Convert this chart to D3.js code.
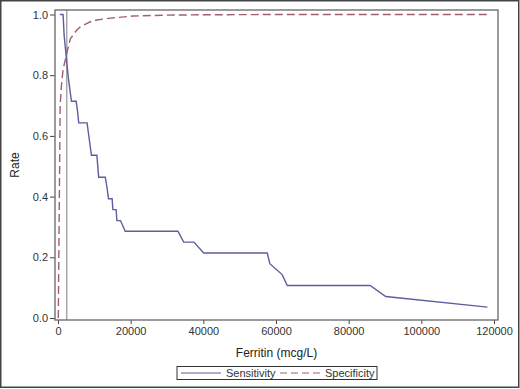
<!DOCTYPE html>
<html>
<head>
<meta charset="utf-8">
<script src="https://cdn.jsdelivr.net/npm/d3@7"></script>
<style>
  body { margin: 0; background: #fff; }
  text { font-family: "Liberation Sans", Arial, sans-serif; }
</style>
</head>
<body>
<div id="main"></div>
<script>
// ferritin (mcg/L) vs sensitivity
var sensFerritin = [500, 1400, 1700, 2000, 2300, 2600, 2900, 3300, 3700, 5000, 5400, 5700, 8000, 9200, 10700, 11200, 13000, 13500, 13900, 14900, 15100, 16000, 16200, 17200, 18500, 33000, 34600, 37400, 40100, 57600, 58300, 61700, 63100, 85900, 90200, 118200];
var sensValues   = [1.0, 1.0, 0.929, 0.893, 0.857, 0.821, 0.786, 0.75, 0.714, 0.714, 0.679, 0.643, 0.643, 0.536, 0.536, 0.464, 0.464, 0.429, 0.393, 0.393, 0.357, 0.357, 0.321, 0.321, 0.286, 0.286, 0.25, 0.25, 0.214, 0.214, 0.179, 0.143, 0.107, 0.107, 0.071, 0.036];

var specFerritin = [80, 600, 900, 1400, 2000, 2500, 3400, 5200, 6200, 8000, 8900, 10700, 14400, 20700, 30100, 39200, 60000, 118200];
var specValues   = [0.0, 0.70, 0.76, 0.82, 0.85, 0.877, 0.92, 0.949, 0.96, 0.971, 0.976, 0.982, 0.988, 0.995, 0.998, 0.999, 1.0, 1.0];

var cutoff = 2400;
var xTicks = [0, 20000, 40000, 60000, 80000, 100000, 120000];
var yTicks = [0.0, 0.2, 0.4, 0.6, 0.8, 1.0];
var legendNames = ["Sensitivity", "Specificity"];

var ctx = {
    w: 520,
    h: 389,
    left: 55, right: 498, top: 10, bottom: 320,
    sensColor: "#5b5f9c",
    specColor: "#a0606a"
};

var createViz = function() {
    var svg = d3.select("#main").append("svg")
        .attr("width", ctx.w)
        .attr("height", ctx.h);

    // outer border of the picture
    svg.append("rect")
        .attr("x", 0.75).attr("y", 0.75)
        .attr("width", ctx.w - 2).attr("height", ctx.h - 2.5)
        .attr("fill", "none")
        .attr("stroke", "#444")
        .attr("stroke-width", 1.5);

    var x = d3.scaleLinear().domain([0, 120000]).range([58, 494]);
    var y = d3.scaleLinear().domain([0, 1]).range([318, 14.5]);

    // axes
    var xAxis = svg.append("g")
        .attr("transform", "translate(0," + ctx.bottom + ")")
        .call(d3.axisBottom(x).tickValues(xTicks).tickSize(4).tickPadding(3).tickFormat(d3.format("d")));
    var yAxis = svg.append("g")
        .attr("transform", "translate(" + ctx.left + ",0)")
        .call(d3.axisLeft(y).tickValues(yTicks).tickSize(5).tickPadding(2).tickFormat(d3.format(".1f")));
    [xAxis, yAxis].forEach(function(a) {
        a.select(".domain").remove();
        a.selectAll("line").attr("stroke", "#444");
        a.selectAll("text")
            .attr("fill", "#333")
            .style("font-size", "11px");
    });

    // cutoff reference line
    svg.append("line")
        .attr("x1", x(cutoff)).attr("x2", x(cutoff))
        .attr("y1", ctx.top).attr("y2", ctx.bottom)
        .attr("stroke", "#a8a8a8")
        .attr("stroke-width", 1.5);

    var sensData = sensFerritin.map(function(f, i) { return [f, sensValues[i]]; });
    var specData = specFerritin.map(function(f, i) { return [f, specValues[i]]; });
    var line = d3.line()
        .x(function(d) { return x(d[0]); })
        .y(function(d) { return y(d[1]); });

    svg.append("path")
        .attr("d", line(specData))
        .attr("fill", "none")
        .attr("stroke", ctx.specColor)
        .attr("stroke-width", 1.4)
        .attr("stroke-dasharray", "8,4");

    svg.append("path")
        .attr("d", line(sensData))
        .attr("fill", "none")
        .attr("stroke", ctx.sensColor)
        .attr("stroke-width", 1.4);

    // plot frame
    svg.append("rect")
        .attr("x", ctx.left).attr("y", ctx.top)
        .attr("width", ctx.right - ctx.left).attr("height", ctx.bottom - ctx.top)
        .attr("fill", "none")
        .attr("stroke", "#666")
        .attr("stroke-width", 1.3);

    // axis labels
    svg.append("text")
        .attr("x", (ctx.left + ctx.right) / 2)
        .attr("y", 357)
        .attr("text-anchor", "middle")
        .attr("fill", "#222")
        .style("font-size", "12px")
        .text("Ferritin (mcg/L)");
    svg.append("text")
        .attr("transform", "translate(19," + 165 + ") rotate(-90)")
        .attr("text-anchor", "middle")
        .attr("fill", "#222")
        .style("font-size", "12px")
        .text("Rate");

    // legend
    var lg = svg.append("g");
    lg.append("rect")
        .attr("x", 177).attr("y", 366.5)
        .attr("width", 200).attr("height", 13)
        .attr("fill", "none")
        .attr("stroke", "#333")
        .attr("stroke-width", 1);
    lg.append("line")
        .attr("x1", 181).attr("x2", 221)
        .attr("y1", 373).attr("y2", 373)
        .attr("stroke", ctx.sensColor).attr("stroke-width", 1.2);
    lg.append("text")
        .attr("x", 226).attr("y", 377)
        .attr("fill", "#333").style("font-size", "11px")
        .text(legendNames[0]);
    lg.append("line")
        .attr("x1", 280).attr("x2", 321)
        .attr("y1", 373).attr("y2", 373)
        .attr("stroke", ctx.specColor).attr("stroke-width", 1.2)
        .attr("stroke-dasharray", "7,4");
    lg.append("text")
        .attr("x", 325).attr("y", 377)
        .attr("fill", "#333").style("font-size", "11px")
        .text(legendNames[1]);
};

createViz();
</script>
</body>
</html>
